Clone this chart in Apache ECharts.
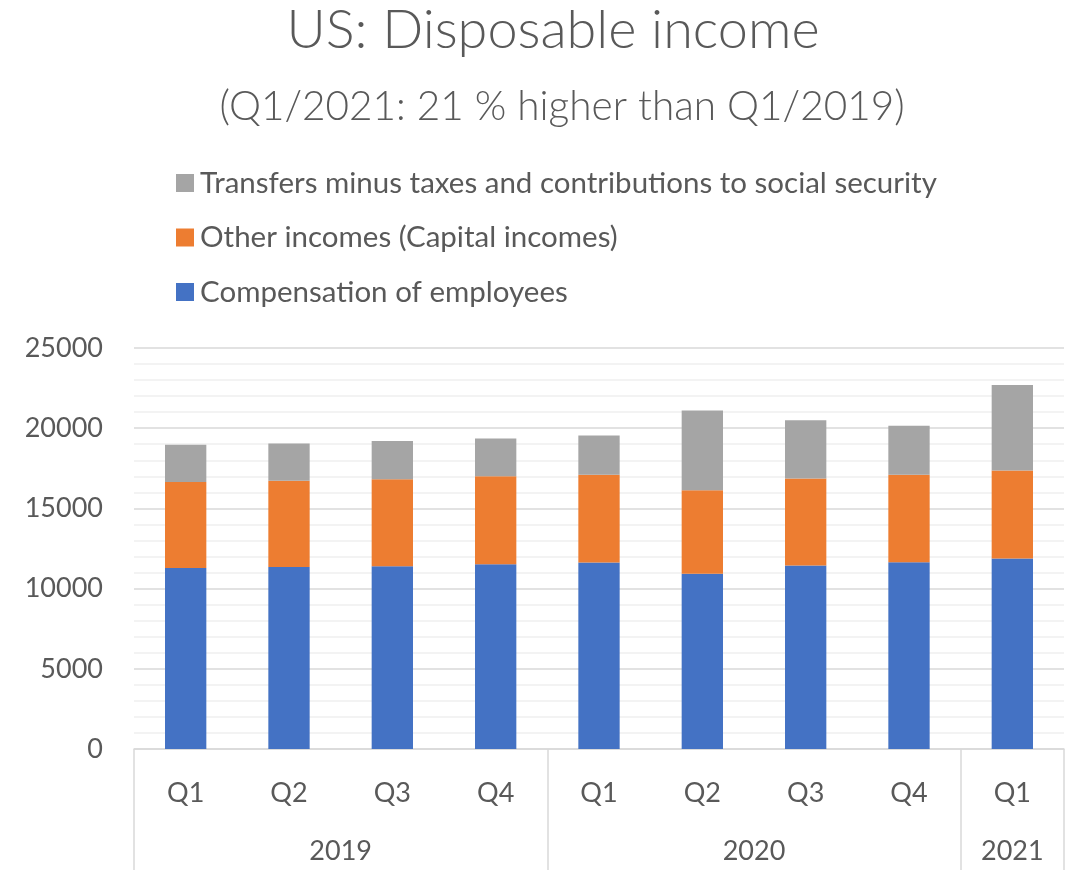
<!DOCTYPE html>
<html>
<head>
<meta charset="utf-8">
<title>US: Disposable income</title>
<script src="https://cdn.jsdelivr.net/npm/echarts@6/dist/echarts.min.js"></script>
<style>
  html, body { margin: 0; padding: 0; background: #ffffff; }
  #chart { width: 1071px; height: 870px; }
</style>
</head>
<body>
<div id="chart"></div>
<script>
// Quarters and their year groups
const quarters = ['Q1', 'Q2', 'Q3', 'Q4', 'Q1', 'Q2', 'Q3', 'Q4', 'Q1'];
const years = ['2019', '2020', '2021'];
const quartersPerYear = [4, 4, 1];

// Components of disposable income (stacked)
const compensation = [11290, 11350, 11390, 11520, 11620, 10920, 11440, 11640, 11870];
const otherIncomes = [5350, 5380, 5420, 5480, 5480, 5210, 5430, 5460, 5490];
const transfers = [2330, 2320, 2390, 2360, 2450, 4980, 3630, 3060, 5330];

// Y axis
const yMin = 0, yMax = 25000, yStep = 5000;

const seriesNames = {
  comp: 'Compensation of employees',
  other: 'Other incomes (Capital incomes)',
  transfers: 'Transfers minus taxes and contributions to social security'
};

// Year group boundaries and centres on a 0..N scale laid over the category band
const boundaries = [0];
quartersPerYear.forEach(n => boundaries.push(boundaries[boundaries.length - 1] + n));
const yearCentres = years.map((_, i) => (boundaries[i] + boundaries[i + 1]) / 2);

const textColor = '#595959';
const fontFamily = 'Lato, "Open Sans", "Noto Sans", sans-serif';

const chart = echarts.init(document.getElementById('chart'), null, { renderer: 'canvas' });

chart.setOption({
  animation: false,
  backgroundColor: '#ffffff',
  textStyle: { fontFamily: fontFamily, color: textColor },
  title: [
    {
      text: 'US: Disposable income',
      left: 548, top: -1, textAlign: 'center',
      textStyle: { fontSize: 54, fontWeight: 300, color: textColor, fontFamily: fontFamily }
    },
    {
      text: '(Q1/2021: 21 % higher than Q1/2019)',
      left: 557, top: 81, textAlign: 'center',
      textStyle: { fontSize: 40.5, fontWeight: 300, color: textColor, fontFamily: fontFamily }
    }
  ],
  legend: {
    orient: 'vertical',
    left: 171, top: 163,
    itemWidth: 18, itemHeight: 18,
    itemGap: 24.5,
    icon: 'rect',
    data: [seriesNames.transfers, seriesNames.other, seriesNames.comp],
    textStyle: { fontSize: 29.5, color: textColor, fontFamily: fontFamily, padding: [0, 0, 0, 1] }
  },
  grid: { left: 134, right: 7, top: 348, bottom: 121, containLabel: false },
  xAxis: [
    {
      type: 'category',
      data: quarters,
      axisLine: { show: true, lineStyle: { color: '#d9d9d9', width: 1.5 } },
      axisTick: { show: false },
      axisLabel: { fontSize: 27, color: textColor, margin: 31, fontFamily: fontFamily },
      splitLine: { show: false }
    },
    {
      // second level: year groups
      type: 'value',
      position: 'bottom',
      min: 0, max: boundaries[boundaries.length - 1],
      axisLine: { show: false },
      axisTick: {
        show: true, customValues: boundaries, length: 121,
        lineStyle: { color: '#d9d9d9', width: 1.5 }
      },
      axisLabel: {
        show: true, customValues: yearCentres,
        fontSize: 27, color: textColor, margin: 89, fontFamily: fontFamily,
        formatter: v => {
          const i = yearCentres.indexOf(v);
          return i >= 0 ? years[i] : '';
        }
      },
      splitLine: { show: false }
    }
  ],
  yAxis: {
    type: 'value',
    min: yMin, max: yMax, interval: yStep,
    axisLine: { show: false },
    axisTick: { show: false },
    axisLabel: {
      fontSize: 27, color: textColor, margin: 31, fontFamily: fontFamily,
      formatter: v => String(v)
    },
    splitLine: { show: true, lineStyle: { color: '#d9d9d9', width: 1.5 } },
    minorTick: { show: false, splitNumber: 5 },
    minorSplitLine: { show: true, lineStyle: { color: '#f0f0f0', width: 1.5 } }
  },
  series: [
    {
      name: seriesNames.comp, type: 'bar', stack: 'income', xAxisIndex: 0,
      data: compensation, barWidth: '40%',
      itemStyle: { color: '#4472C4' }
    },
    {
      name: seriesNames.other, type: 'bar', stack: 'income', xAxisIndex: 0,
      data: otherIncomes, barWidth: '40%',
      itemStyle: { color: '#ED7D31' }
    },
    {
      name: seriesNames.transfers, type: 'bar', stack: 'income', xAxisIndex: 0,
      data: transfers, barWidth: '40%',
      itemStyle: { color: '#A5A5A5' }
    }
  ]
});
</script>
</body>
</html>
